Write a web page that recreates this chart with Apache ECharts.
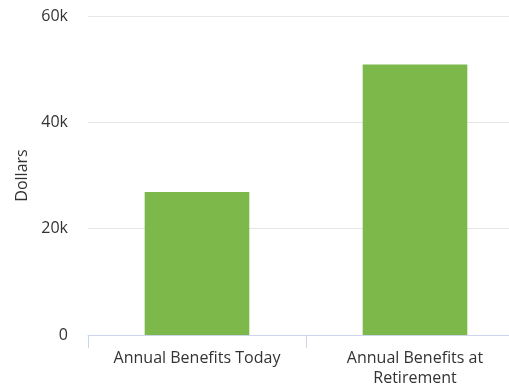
<!DOCTYPE html>
<html><head><meta charset="utf-8">
<style>html,body{margin:0;padding:0;background:#fff}#c{width:509px;height:385px}</style>
<script src="https://cdn.jsdelivr.net/npm/echarts@6/dist/echarts.min.js"></script>
</head><body><div id="c"></div>
<script>
const categories = ['Annual Benefits Today', 'Annual Benefits at\nRetirement'];
const values = [26900, 50900];
const yTicks = [0, 20000, 40000, 60000];
const yAxisTitle = 'Dollars';

const chart = echarts.init(document.getElementById('c'), null, {renderer: 'canvas'});
chart.setOption({
  animation: false,
  textStyle: {fontFamily: 'Open Sans'},
  grid: {left: 88, right: -15, top: 16, bottom: 50, containLabel: false, outerBoundsMode: 'none'},
  xAxis: {
    type: 'category', data: categories,
    axisLine: {lineStyle: {color: '#ccd6eb', width: 1}},
    axisTick: {show: true, length: 13, lineStyle: {color: '#ccd6eb'}},
    axisLabel: {color: '#333', fontSize: 16, margin: 13, lineHeight: 20, interval: 0, fontFamily: 'Open Sans'}
  },
  yAxis: {
    type: 'value', min: yTicks[0], max: yTicks[yTicks.length-1], interval: 20000,
    name: yAxisTitle, nameLocation: 'middle', nameGap: 57, nameRotate: 90,
    nameTextStyle: {color: '#333', fontSize: 16, fontFamily: 'Open Sans'},
    axisLine: {show: false}, axisTick: {show: false},
    splitLine: {lineStyle: {color: '#e6e6e6', width: 1}},
    axisLabel: {color: '#333', fontSize: 16, margin: 20, fontFamily: 'Open Sans',
      formatter: v => v === 0 ? '0' : (v/1000) + 'k'}
  },
  series: [{
    type: 'bar', data: values, barWidth: '48%',
    itemStyle: {color: '#7cb94a'}
  }]
});
</script></body></html>
